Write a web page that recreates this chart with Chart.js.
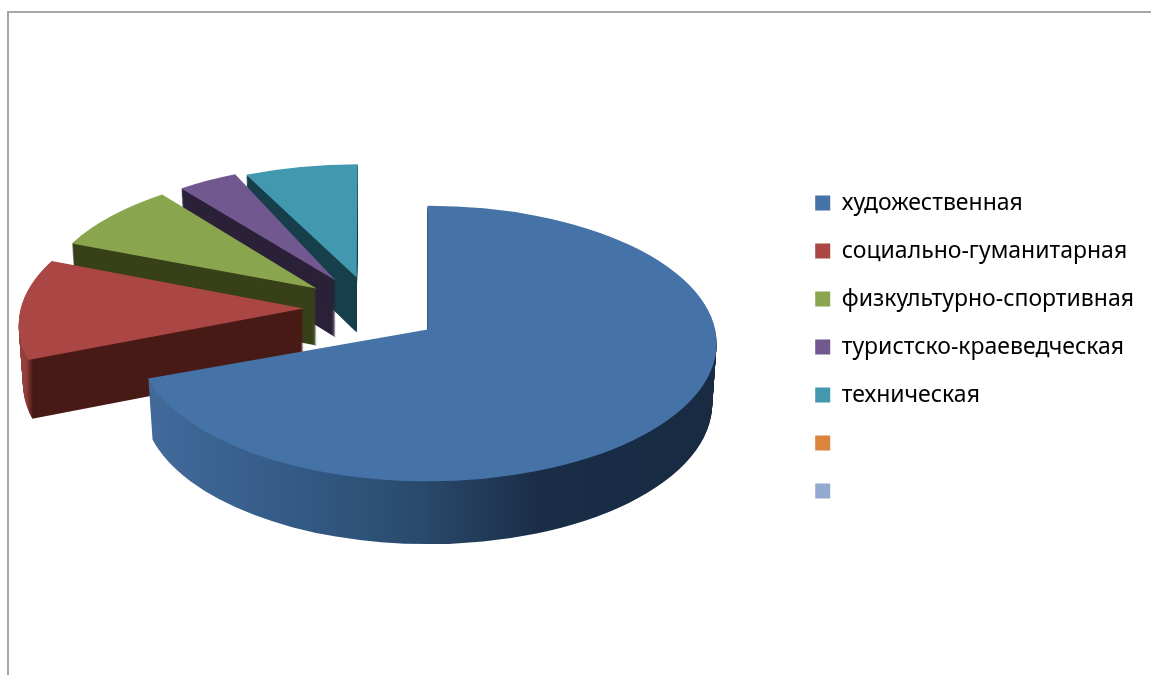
<!doctype html>
<html>

<head>
  <meta charset="utf-8">
  <title>Pie</title>
  <script src="https://cdn.jsdelivr.net/npm/chart.js@4/dist/chart.umd.js"></script>
  <style>
    body {
      margin: 0;
      background: #fff;
    }

    #frame {
      position: absolute;
      left: 7px;
      top: 11px;
      width: 1144px;
      height: 664px;
      border-top: 2px solid #a6a6a6;
      border-left: 2px solid #a6a6a6;
      box-sizing: border-box;
    }

    canvas {
      position: absolute;
      left: 0;
      top: 0;
    }
  </style>
</head>

<body>
<div id="frame"></div>
<canvas id="canvas" width="1151" height="675"></canvas>
<script>
  var categories = ['художественная', 'социально-гуманитарная', 'физкультурно-спортивная', 'туристско-краеведческая', 'техническая', '', ''];
  var values = [70.9, 11.8, 7.6, 3.4, 6.3, 0, 0];
  var topColors = ['#4572a7', '#aa4643', '#89a54e', '#71588f', '#4198af', '#db843d', '#93a9cf'];

  // look of the 3d slices, in the same order as the categories
  var explode = [[0, -3.5], [-120, -22], [-100, -39.5], [-81, -45.5], [-70, -45]];
  var apexShift = [[0, -14], [-4, -16.5], [-11, -19], [-11, -21], [-1, -24.5]];
  var depths = [60, 58, 57, 57, 55];
  var squash = 0.477;
  var sideColors = [
    [[157, '#41699a'], [300, '#335a85'], [420, '#2a4a6c'], [540, '#1a2d47'], [712, '#182b43']],
    [[26, '#93403c'], [33, '#481a16']],
    [[0, '#38411a']],
    [[0, '#2b2138']],
    [[0, '#173e4b']]
  ];

  function slicePath(ctx, arc, i, drop) {
    var t = drop / depths[i];
    var cx = arc.x + explode[i][0];
    var cy = arc.y + explode[i][1] + drop;
    ctx.beginPath();
    ctx.moveTo(cx + apexShift[i][0], cy + apexShift[i][1]);
    ctx.ellipse(cx, cy, arc.outerRadius * (1 - 0.015 * t), arc.outerRadius * squash * (1 + 0.02 * t), 0, arc.startAngle, arc.endAngle);
    ctx.closePath();
  }

  function sideFill(ctx, i) {
    var stops = sideColors[i];
    if (stops.length == 1) return stops[0][1];
    var from = stops[0][0];
    var to = stops[stops.length - 1][0];
    var grad = ctx.createLinearGradient(from, 0, to, 0);
    stops.forEach(function (s) {
      grad.addColorStop((s[0] - from) / (to - from), s[1]);
    });
    return grad;
  }

  // draws the arcs of the pie as extruded, squashed slices, back to front
  var pie3d = {
    id: 'pie3d',
    beforeDatasetDraw: function (chart) {
      var ctx = chart.ctx;
      var arcs = chart.getDatasetMeta(0).data;
      ctx.save();
      for (var i = 4; i >= 0; i--) {
        ctx.fillStyle = sideFill(ctx, i);
        for (var d = depths[i]; d > 0; d--) {
          slicePath(ctx, arcs[i], i, d);
          ctx.fill();
        }
        ctx.fillStyle = topColors[i];
        slicePath(ctx, arcs[i], i, 0);
        ctx.fill();
      }
      ctx.restore();
      return false;
    }
  };

  window.onload = function () {
    var ctx = document.getElementById('canvas').getContext('2d');
    window.myPie = new Chart(ctx, {
      type: 'pie',
      data: {
        labels: categories,
        datasets: [{
          data: values,
          backgroundColor: topColors,
          borderWidth: 0,
          radius: 289
        }]
      },
      options: {
        responsive: false,
        animation: false,
        layout: {
          padding: { top: 19, left: 65, right: 7 }
        },
        plugins: {
          tooltip: { enabled: false },
          legend: {
            position: 'right',
            labels: {
              boxWidth: 15,
              boxHeight: 15,
              padding: 25,
              color: '#000',
              font: { family: 'Noto Sans', size: 23 }
            }
          }
        }
      },
      plugins: [pie3d]
    });
  };
</script>
</body>

</html>
